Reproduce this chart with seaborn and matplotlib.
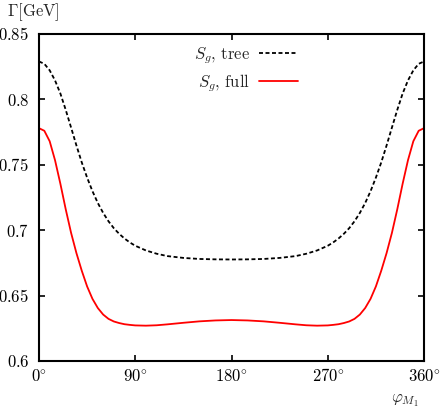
import numpy as np
import pandas as pd
import matplotlib
matplotlib.use("Agg")
import matplotlib.pyplot as plt
import seaborn as sns

# ── data ─────────────────────────────────────────────────────────────────────
phi = [0, 5, 10, 15, 20, 25, 30, 35, 40, 45, 50, 55, 60, 65, 70, 75, 80, 85,
       90, 100, 110, 120, 135, 150, 165, 180, 195, 210, 225, 240, 250, 260,
       270, 275, 280, 285, 290, 295, 300, 305, 310, 315, 320, 325, 330, 335,
       340, 345, 350, 355, 360]

gamma_tree = [0.8290, 0.8272, 0.8222, 0.8145, 0.8045, 0.7920, 0.7785, 0.7648,
              0.7518, 0.7402, 0.7298, 0.7208, 0.7132, 0.7068, 0.7015, 0.6972,
              0.6936, 0.6906, 0.6881, 0.6845, 0.6820, 0.6802, 0.6788, 0.6780,
              0.6777, 0.6776, 0.6777, 0.6780, 0.6788, 0.6802, 0.6820, 0.6845,
              0.6881, 0.6906, 0.6936, 0.6972, 0.7015, 0.7068, 0.7132, 0.7208,
              0.7298, 0.7402, 0.7518, 0.7648, 0.7785, 0.7920, 0.8045, 0.8145,
              0.8222, 0.8272, 0.8290]

gamma_full = [0.7780, 0.7760, 0.7680, 0.7535, 0.7355, 0.7160, 0.6980, 0.6825,
              0.6690, 0.6570, 0.6475, 0.6405, 0.6355, 0.6322, 0.6302, 0.6290,
              0.6281, 0.6276, 0.6272, 0.6270, 0.6273, 0.6280, 0.6292, 0.6303,
              0.6310, 0.6313, 0.6310, 0.6303, 0.6292, 0.6280, 0.6273, 0.6270,
              0.6272, 0.6276, 0.6281, 0.6290, 0.6302, 0.6322, 0.6355, 0.6405,
              0.6475, 0.6570, 0.6690, 0.6825, 0.6980, 0.7160, 0.7355, 0.7535,
              0.7680, 0.7760, 0.7780]

labels = [r"$S_g,\,\mathrm{tree}$", r"$S_g,\,\mathrm{full}$"]
xticks = [0, 90, 180, 270, 360]
yticks = [0.6, 0.65, 0.7, 0.75, 0.8, 0.85]

# ── style ────────────────────────────────────────────────────────────────────
sns.set_style("ticks")
plt.rcParams["mathtext.fontset"] = "cm"
plt.rcParams["font.family"] = ["DejaVu Serif"]

df = pd.concat([
    pd.DataFrame({"phi": phi, "gamma": gamma_tree, "series": labels[0]}),
    pd.DataFrame({"phi": phi, "gamma": gamma_full, "series": labels[1]}),
])

fig = plt.figure(figsize=(4.41, 4.09), dpi=100)
ax = fig.add_axes([0.0884, 0.1174, 0.8731, 0.7995])

sns.lineplot(data=df, x="phi", y="gamma", hue="series", style="series",
             palette={labels[0]: "black", labels[1]: "#ff0000"},
             dashes={labels[0]: (2.2, 1.4), labels[1]: ""},
             linewidth=1.3, ax=ax, sort=False)

ax.set_xlim(0, 360)
ax.set_ylim(0.6, 0.85)
ax.set_xticks(xticks)
ax.set_xticklabels([rf"${t}\!^\circ$" for t in xticks], fontsize=12)
ax.set_yticks(yticks)
ax.set_yticklabels([rf"${t:g}$" for t in yticks], fontsize=12)
ax.tick_params(direction="in", length=4, width=1.2, top=True, right=True,
               colors="black")
ax.tick_params(axis="x", pad=5)
ax.tick_params(axis="y", pad=7)
for s in ax.spines.values():
    s.set_linewidth(1.5)
    s.set_color("black")
ax.set_xlabel("")
ax.set_ylabel("")

fig.text(0.015, 0.97, r"$\Gamma[\mathrm{GeV}]$", fontsize=12, ha="left", va="center")
fig.text(0.918, 0.022, r"$\varphi_{M_1}$", fontsize=12, ha="center", va="center")

ax.legend(loc="upper right", bbox_to_anchor=(0.70, 1.0), frameon=False,
          markerfirst=False, fontsize=12, handlelength=2.35, handletextpad=0.5,
          labelspacing=0.4, borderaxespad=0.25)

fig.savefig("out.png", dpi=100)
